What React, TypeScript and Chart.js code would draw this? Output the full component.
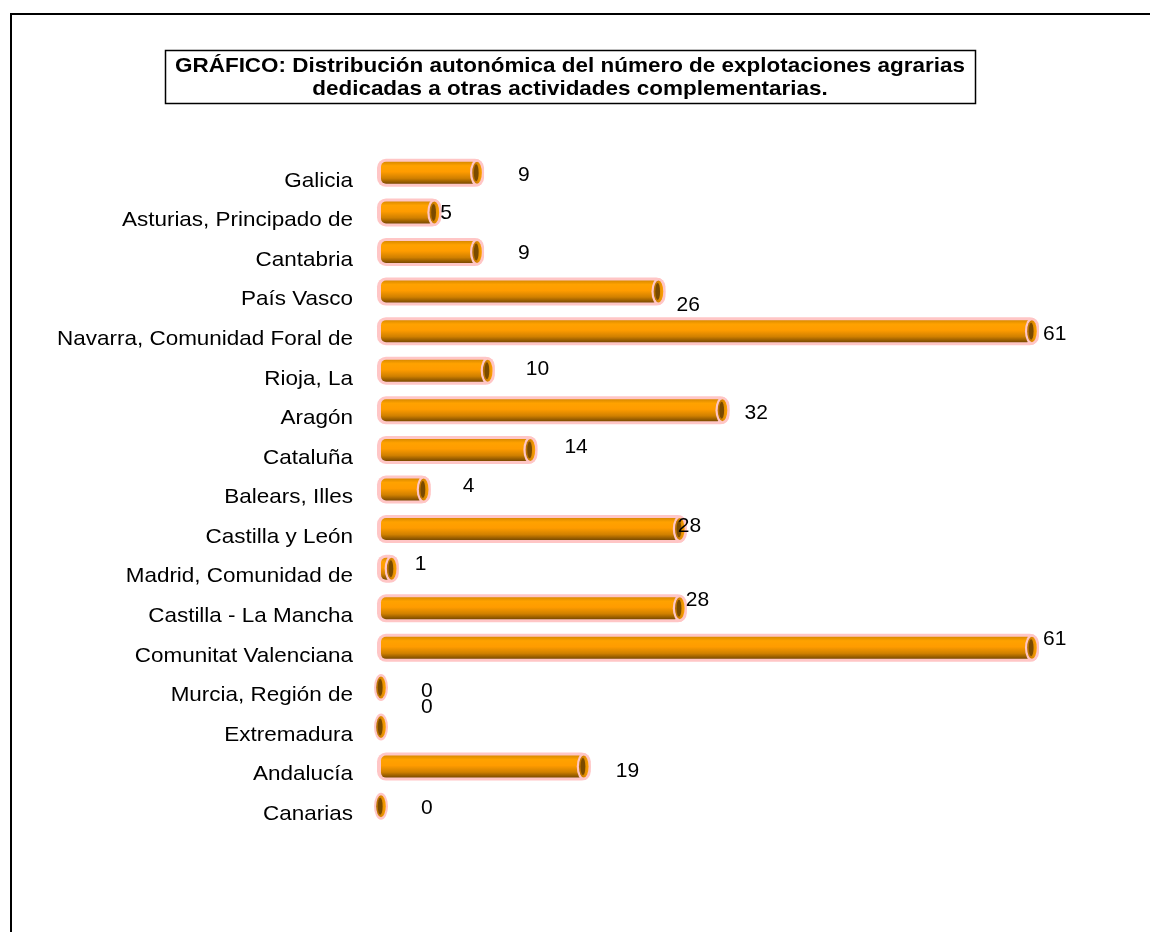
import React, { useEffect, useRef } from "react";
import { Chart, registerables } from "chart.js";

Chart.register(...registerables);

const TITLE_LINES = [
  "GRÁFICO: Distribución autonómica del número de explotaciones agrarias",
  "dedicadas a otras actividades complementarias.",
];

const REGIONS = [
  "Galicia",
  "Asturias, Principado de",
  "Cantabria",
  "País Vasco",
  "Navarra, Comunidad Foral de",
  "Rioja, La",
  "Aragón",
  "Cataluña",
  "Balears, Illes",
  "Castilla y León",
  "Madrid, Comunidad de",
  "Castilla - La Mancha",
  "Comunitat Valenciana",
  "Murcia, Región de",
  "Extremadura",
  "Andalucía",
  "Canarias",
];

const VALUES = [9, 5, 9, 26, 61, 10, 32, 14, 4, 28, 1, 28, 61, 0, 0, 19, 0];

// label nudges relative to the bar end (dx) and bar centre (dy), as placed in the original
const LABEL_DX = [41, 6, 41, 18, 11, 38, 22, 34, 39, -2, 23, 6, 11, 40, 40, 32, 40];
const LABEL_DY = [2, 1, 1, 14, 3, -2, 3, -3, -3, -3, -4, -8, -9, 4, -20, 5, 2];

const FONT = 'Arial, "Liberation Sans", sans-serif';

function rr(ctx: CanvasRenderingContext2D, x: number, y: number, w: number, h: number, r: number) {
  const rad = Math.min(r, w / 2, h / 2);
  ctx.beginPath();
  ctx.moveTo(x + rad, y);
  ctx.lineTo(x + w - rad, y);
  ctx.arcTo(x + w, y, x + w, y + rad, rad);
  ctx.lineTo(x + w, y + h - rad);
  ctx.arcTo(x + w, y + h, x + w - rad, y + h, rad);
  ctx.lineTo(x + rad, y + h);
  ctx.arcTo(x, y + h, x, y + h - rad, rad);
  ctx.lineTo(x, y + rad);
  ctx.arcTo(x, y, x + rad, y, rad);
  ctx.closePath();
}

function stretchedText(ctx: CanvasRenderingContext2D, text: string, cx: number, cy: number, sx: number) {
  ctx.save();
  ctx.translate(cx, cy);
  ctx.scale(sx, 1);
  ctx.fillText(text, 0, 0);
  ctx.restore();
}

const framePlugin = {
  id: "frame",
  beforeDraw(chart: any) {
    const ctx = chart.ctx as CanvasRenderingContext2D;
    ctx.save();
    ctx.fillStyle = "#ffffff";
    ctx.fillRect(0, 0, chart.width, chart.height);
    ctx.strokeStyle = "#000";
    ctx.lineWidth = 2;
    ctx.strokeRect(11, 14, chart.width + 20, chart.height + 20);
    // title box
    ctx.lineWidth = 1.5;
    ctx.strokeRect(165.5, 50.5, 810, 53);
    ctx.fillStyle = "#000";
    ctx.font = `bold 21px ${FONT}`;
    ctx.textAlign = "center";
    ctx.textBaseline = "middle";
    const w0 = ctx.measureText(TITLE_LINES[0]).width;
    const sx = 790 / w0;
    stretchedText(ctx, TITLE_LINES[0], 570, 66, sx);
    stretchedText(ctx, TITLE_LINES[1], 570, 89, sx);
    ctx.restore();
  },
  afterDraw(chart: any) {
    // category labels, set slightly below the bar centres as in the original
    const ctx = chart.ctx as CanvasRenderingContext2D;
    const yScale = chart.scales.y;
    ctx.save();
    ctx.fillStyle = "#000";
    ctx.font = `21px ${FONT}`;
    ctx.textAlign = "right";
    ctx.textBaseline = "middle";
    REGIONS.forEach((name, i) => {
      const y = yScale.getPixelForTick(i) + 8;
      stretchedText(ctx, name, yScale.right - 28, y, 1.07);
    });
    ctx.restore();
  },
};

const cylinderPlugin = {
  id: "cylinders",
  afterDatasetsDraw(chart: any) {
    const ctx = chart.ctx as CanvasRenderingContext2D;
    const meta = chart.getDatasetMeta(0);
    ctx.save();
    meta.data.forEach((el: any, i: number) => {
      const { x, y, base } = el.getProps(["x", "y", "base"], true);
      const h = 22;
      const top = y - h / 2;
      const len = x - base;
      if (len > 0) {
        ctx.fillStyle = "#FFC6C6";
        rr(ctx, base - 4, top - 3, len + 11, h + 6, 9);
        ctx.fill();
        const g = ctx.createLinearGradient(0, top, 0, top + h);
        g.addColorStop(0, "#D98A00");
        g.addColorStop(0.18, "#FFA200");
        g.addColorStop(0.45, "#FF9C00");
        g.addColorStop(0.75, "#D08000");
        g.addColorStop(1, "#7A4A00");
        ctx.fillStyle = g;
        rr(ctx, base, top, len, h, 5);
        ctx.fill();
      }
      // end cap
      ctx.fillStyle = "#FFC6C6";
      ctx.beginPath();
      ctx.ellipse(x, y, 7, 13.5, 0, 0, Math.PI * 2);
      ctx.fill();
      const cg = ctx.createLinearGradient(x - 5, 0, x + 5, 0);
      cg.addColorStop(0, "#B06A00");
      cg.addColorStop(1, "#FFA200");
      ctx.fillStyle = cg;
      ctx.beginPath();
      ctx.ellipse(x, y, 4.8, 11, 0, 0, Math.PI * 2);
      ctx.fill();
      ctx.fillStyle = "#7A4A00";
      ctx.beginPath();
      ctx.ellipse(x - 0.8, y, 2.4, 8.5, 0, 0, Math.PI * 2);
      ctx.fill();
      // value label
      ctx.fillStyle = "#000";
      ctx.font = `21px ${FONT}`;
      ctx.textAlign = "left";
      ctx.textBaseline = "middle";
      ctx.fillText(String(VALUES[i]), x + LABEL_DX[i], y + LABEL_DY[i]);
    });
    ctx.restore();
  },
};

export default function App() {
  const ref = useRef<HTMLCanvasElement>(null);
  useEffect(() => {
    if (!ref.current) return;
    const chart = new Chart(ref.current, {
      type: "bar",
      data: {
        labels: REGIONS,
        datasets: [
          {
            data: VALUES,
            backgroundColor: "rgba(0,0,0,0)",
            borderWidth: 0,
            barThickness: 22,
          },
        ],
      },
      options: {
        indexAxis: "y",
        responsive: false,
        animation: false,
        devicePixelRatio: 1,
        layout: { padding: { top: 153, bottom: 106, left: 0, right: 22 } },
        plugins: { legend: { display: false }, tooltip: { enabled: false }, title: { display: false } },
        scales: {
          x: { display: false, min: 0, max: 70 },
          y: {
            afterFit: (s: any) => {
              s.width = 381;
            },
            grid: { display: false, drawTicks: false },
            border: { display: false },
            ticks: { display: false, autoSkip: false },
          },
        },
      },
      plugins: [framePlugin, cylinderPlugin],
    });
    return () => chart.destroy();
  }, []);
  return (
    <div style={{ position: "absolute", left: 0, top: 0, width: 1150, height: 932 }}>
      <canvas ref={ref} width={1150} height={932} />
    </div>
  );
}
